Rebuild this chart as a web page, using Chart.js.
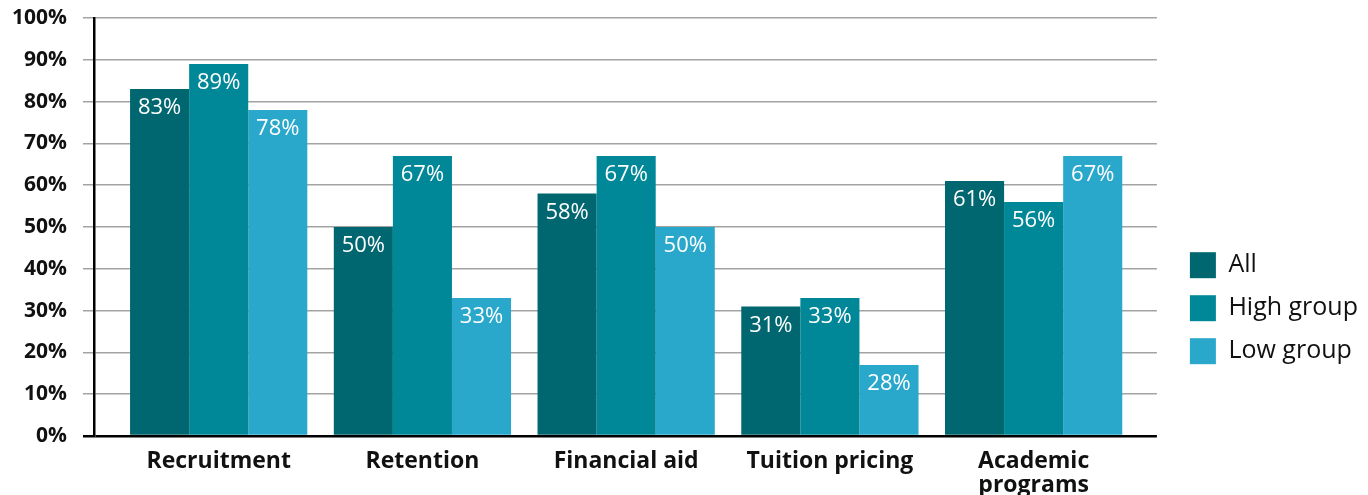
<!DOCTYPE html>
<html>
<head>
<meta charset="utf-8">
<script src="https://cdn.jsdelivr.net/npm/chart.js@4.4.1/dist/chart.umd.min.js"></script>
<style>
  html, body { margin: 0; padding: 0; background: #fff; }
  #wrap { width: 1368px; height: 495px; }
</style>
</head>
<body>
<div id="wrap"><canvas id="c" width="1368" height="495"></canvas></div>
<script>
// ---- data ----
const categories = ["Recruitment", "Retention", "Financial aid", "Tuition pricing", ["Academic", "programs"]];
const seriesNames = ["All", "High group", "Low group"];
const allValues = [83, 50, 58, 31, 61];
const highValues = [89, 67, 67, 33, 56];
const lowValues = [78, 33, 50, 17, 67];
const allLabels = ["83%", "50%", "58%", "31%", "61%"];
const highLabels = ["89%", "67%", "67%", "33%", "56%"];
const lowLabels = ["78%", "33%", "50%", "28%", "67%"];
const yTicks = [0, 10, 20, 30, 40, 50, 60, 70, 80, 90, 100];

const colors = ["#00666f", "#008798", "#29a8cc"];
const FONT = "'Open Sans'";

const toPoints = arr => arr.map((v, i) => ({ x: i, y: v }));
const valueSets = [allValues, highValues, lowValues];
const labelSets = [allLabels, highLabels, lowLabels];

const barLabels = {
  id: "barLabels",
  afterDatasetsDraw(chart) {
    const ctx = chart.ctx;
    ctx.save();
    ctx.fillStyle = "#ffffff";
    ctx.font = "22px " + FONT;
    ctx.textAlign = "center";
    ctx.textBaseline = "middle";
    chart.data.datasets.forEach((ds, di) => {
      const meta = chart.getDatasetMeta(di);
      meta.data.forEach((bar, i) => {
        ctx.fillText(labelSets[di][i], bar.x, bar.y + 19);
      });
    });
    ctx.restore();
  }
};

new Chart(document.getElementById("c"), {
  type: "bar",
  data: {
    datasets: seriesNames.map((name, k) => ({
      label: name,
      data: toPoints(valueSets[k]),
      backgroundColor: colors[k],
      borderWidth: 0,
      categoryPercentage: 0.87,
      barPercentage: 1.0
    }))
  },
  options: {
    responsive: false,
    devicePixelRatio: 1,
    animation: false,
    layout: { padding: { top: 18, left: 0, right: 0, bottom: 0 } },
    plugins: {
      tooltip: { enabled: false },
      legend: {
        position: "right",
        align: "center",
        title: { display: true, text: " ", font: { size: 12 }, padding: { top: 0, bottom: 89 } },
        labels: {
          boxWidth: 26,
          boxHeight: 26,
          padding: 17,
          color: "#111",
          font: { family: FONT, size: 25 }
        }
      }
    },
    scales: {
      x: {
        type: "linear",
        offset: false,
        bounds: "data",
        min: -0.612,
        max: 4.605,
        grid: { display: false, drawTicks: false, offset: false },
        border: { display: false },
        afterBuildTicks: s => { s.ticks = categories.map((c, i) => ({ value: i })); },
        afterFit: s => { s.height = 59; },
        ticks: {
          autoSkip: false,
          maxRotation: 0,
          padding: 13,
          color: "#111",
          font: { family: FONT, size: 23, weight: "bold", lineHeight: 1.05 },
          callback: v => categories[v]
        }
      },
      y: {
        min: 0,
        max: 100,
        afterBuildTicks: s => { s.ticks = yTicks.map(v => ({ value: v })); },
        afterFit: s => { s.width = 94; s.paddingTop = 10; s.paddingBottom = 0; },
        grid: {
          color: c => (c.tick && c.tick.value === 0 ? "#000" : "#a3a3a3"),
          lineWidth: c => (c.tick && c.tick.value === 0 ? 2.5 : 1.5),
          tickColor: c => (c.tick && c.tick.value === 0 ? "#000" : "#a3a3a3"),
          tickLength: 11,
          drawTicks: true
        },
        border: { display: true, color: "#000", width: 2.5 },
        ticks: {
          padding: 16,
          color: "#111",
          font: { family: FONT, size: 21, weight: "bold" },
          callback: v => v + "%"
        }
      },
      spacer: {
        type: "linear",
        position: "right",
        display: true,
        grid: { display: false, drawTicks: false },
        border: { display: false },
        ticks: { display: false },
        afterFit: s => { s.width = 16; s.paddingTop = 0; s.paddingBottom = 0; }
      }
    }
  },
  plugins: [barLabels]
});
</script>
</body>
</html>
